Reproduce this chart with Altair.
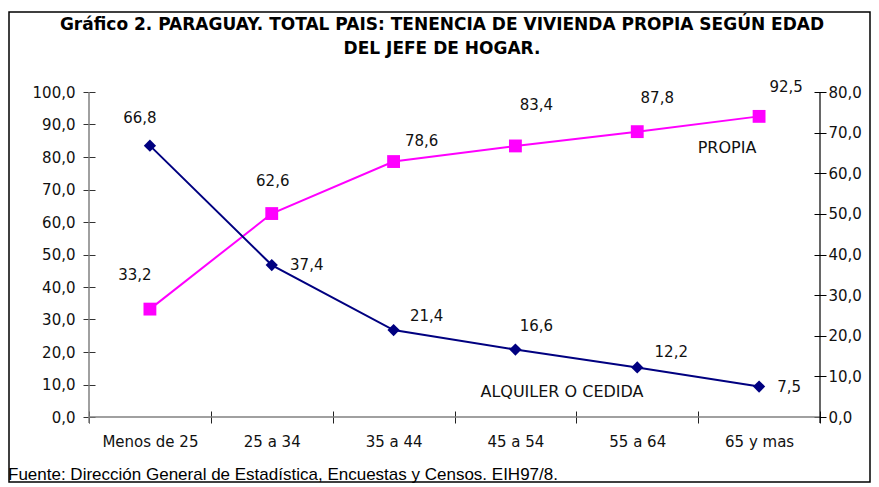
import altair as alt
import pandas as pd

# ---------------- data ----------------
categories = ["Menos de 25", "25 a 34", "35 a 44", "45 a 54", "55 a 64", "65 y mas"]
propia = [33.2, 62.6, 78.6, 83.4, 87.8, 92.5]
alquiler = [66.8, 37.4, 21.4, 16.6, 12.2, 7.5]
series_names = ["PROPIA", "ALQUILER O CEDIDA"]
left_ticks = [0, 10, 20, 30, 40, 50, 60, 70, 80, 90, 100]
right_ticks = [0, 10, 20, 30, 40, 50, 60, 70, 80]
title_lines = [
    "Gráfico 2. PARAGUAY. TOTAL PAIS: TENENCIA DE VIVIENDA PROPIA SEGÚN EDAD",
    "DEL JEFE DE HOGAR.",
]
source_text = "Fuente: Dirección General de Estadística, Encuestas y Censos. EIH97/8."

# ---------------- style / layout ----------------
W, H = 731, 325
MAGENTA = "#FF00FF"
NAVY = "#000080"
NUM_FONT = "DejaVu Sans"
propia_label_offsets = [(-15, -34), (1, -33), (28, -21), (21, -41), (20, -34), (27, -29)]
alquiler_label_offsets = [(-10, -28), (35, 0), (33, -14), (21, -24), (34, -15), (30, 0)]

df = pd.DataFrame({
    "cat": categories,
    "propia": propia,
    "alquiler": alquiler,
    "idx": list(range(len(categories))),
})

label_expr_fmt = "replace(format(datum.value, '.1f'), '.', ',')"

x_enc = alt.X(
    "cat:N",
    sort=categories,
    bandPosition=0.5,
    scale=alt.Scale(type="band", paddingInner=0, paddingOuter=0),
    axis=alt.Axis(
        title=None, labelAngle=0, domain=False, tickBand="extent",
        offset=-6, tickSize=12, tickColor="#222", tickWidth=1,
        labelPadding=11, labelFont=NUM_FONT, labelFontSize=15,
        labelColor="#111", labelBaseline="top",
    ),
)

y_left = alt.Y(
    "propia:Q",
    scale=alt.Scale(domain=[0, 100], nice=False, zero=True),
    axis=alt.Axis(
        orient="left", title=None, values=left_ticks, labelExpr=label_expr_fmt,
        grid=False, domain=False, offset=-6, tickSize=12, tickColor="#333",
        tickWidth=1, labelPadding=8, labelFont=NUM_FONT, labelFontSize=15,
        labelColor="#111",
    ),
)

y_right = alt.Y(
    "alquiler:Q",
    scale=alt.Scale(domain=[0, 80], nice=False, zero=True),
    axis=alt.Axis(
        orient="right", title=None, values=right_ticks, labelExpr=label_expr_fmt,
        grid=False, domain=False, offset=-6, tickSize=12, tickColor="#000",
        tickWidth=1, labelPadding=2, labelFont=NUM_FONT, labelFontSize=15,
        labelColor="#111",
    ),
)

base = alt.Chart(df)

# ---- PROPIA (left axis) ----
p_line = base.mark_line(color=MAGENTA, strokeWidth=2).encode(x=x_enc, y=y_left)
p_pts = base.mark_point(shape="square", filled=True, opacity=1, size=165,
                        color=MAGENTA).encode(x=x_enc, y=y_left)
p_labels = []
for i, (dx, dy) in enumerate(propia_label_offsets):
    p_labels.append(
        base.transform_filter(alt.datum.idx == i)
        .transform_calculate(lbl="replace(format(datum.propia, '.1f'), '.', ',')")
        .mark_text(dx=dx, dy=dy, font=NUM_FONT, fontSize=15, color="#111")
        .encode(x=x_enc, y=y_left, text="lbl:N")
    )
left_layer = alt.layer(p_line, p_pts, *p_labels)

# ---- ALQUILER (right axis) ----
a_line = base.mark_line(color=NAVY, strokeWidth=2).encode(x=x_enc, y=y_right)
a_pts = base.mark_point(shape="diamond", filled=True, opacity=1, size=150,
                        color=NAVY).encode(x=x_enc, y=y_right)
a_labels = []
for i, (dx, dy) in enumerate(alquiler_label_offsets):
    a_labels.append(
        base.transform_filter(alt.datum.idx == i)
        .transform_calculate(lbl="replace(format(datum.alquiler, '.1f'), '.', ',')")
        .mark_text(dx=dx, dy=dy, font=NUM_FONT, fontSize=15, color="#111")
        .encode(x=x_enc, y=y_right, text="lbl:N")
    )
right_layer = alt.layer(a_line, a_pts, *a_labels)

# ---- decorations ----
one = alt.Chart(pd.DataFrame({"k": [0]}))
left_domain = one.mark_rule(color="#808080", strokeWidth=1.5).encode(
    x=alt.value(0), y=alt.value(0), y2=alt.value(H + 6))
bottom_domain = one.mark_rule(color="#808080", strokeWidth=1.5).encode(
    x=alt.value(0), x2=alt.value(W), y=alt.value(H))
right_domain = one.mark_rule(color="#000000", strokeWidth=1.2).encode(
    x=alt.value(W), y=alt.value(0), y2=alt.value(H + 6))

border = one.mark_rect(fill=None, stroke="#000", strokeWidth=1.5).encode(
    x=alt.value(-80), x2=alt.value(781), y=alt.value(-80), y2=alt.value(390))

title1 = one.mark_text(font=NUM_FONT, fontSize=17, fontWeight="bold", color="#000",
                       align="center", baseline="middle").encode(
    x=alt.value(353), y=alt.value(-67), text=alt.value(title_lines[0]))
title2 = one.mark_text(font=NUM_FONT, fontSize=17, fontWeight="bold", color="#000",
                       align="center", baseline="middle").encode(
    x=alt.value(353), y=alt.value(-43), text=alt.value(title_lines[1]))

footer = one.mark_text(font="Liberation Sans", fontSize=17, color="#000",
                       align="left", baseline="alphabetic").encode(
    x=alt.value(-81), y=alt.value(388), text=alt.value(source_text))

name_propia = one.mark_text(font=NUM_FONT, fontSize=16, color="#111",
                            align="center", baseline="middle").encode(
    x=alt.value(638), y=alt.value(56), text=alt.value(series_names[0]))
name_alq = one.mark_text(font=NUM_FONT, fontSize=16, color="#111",
                         align="center", baseline="middle").encode(
    x=alt.value(473), y=alt.value(300), text=alt.value(series_names[1]))

deco = alt.layer(left_domain, bottom_domain, right_domain, border,
                 title1, title2, footer, name_propia, name_alq)

chart = (
    alt.layer(deco, left_layer, right_layer)
    .resolve_scale(y="independent")
    .properties(
        width=W, height=H,
        autosize=alt.AutoSizeParams(type="none"),
        padding={"left": 81, "top": 84, "right": 51, "bottom": 70},
        background="white",
    )
    .configure_view(stroke=None)
)

chart.save("out.html", embed_options={"renderer": "svg", "actions": False})
